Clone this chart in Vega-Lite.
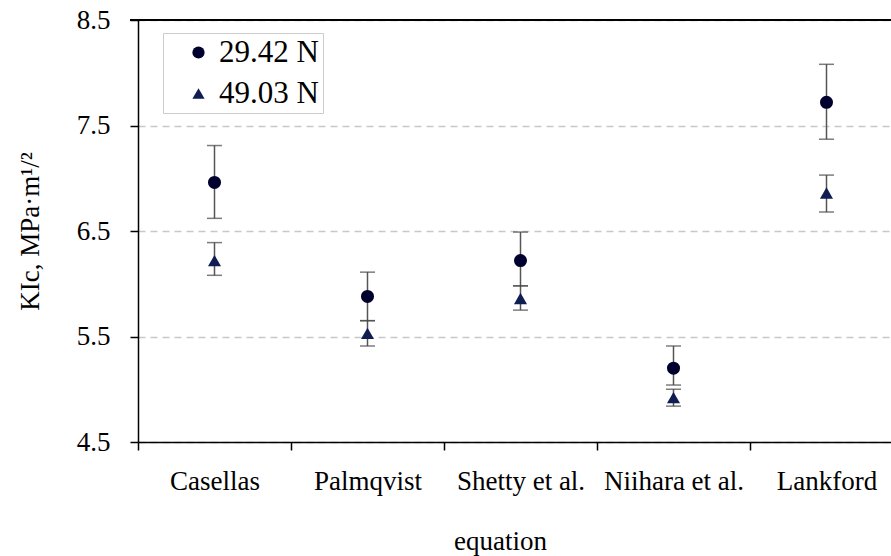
{
  "$schema": "https://vega.github.io/schema/vega-lite/v6.json",
  "autosize": "none",
  "width": 765,
  "height": 422,
  "padding": {"left": 138, "top": 20, "right": 0, "bottom": 114},
  "background": "white",
  "config": {
    "font": "Liberation Serif",
    "view": {"stroke": null},
    "axis": {"labelFont": "Liberation Serif", "titleFont": "Liberation Serif"},
    "legend": {"labelFont": "Liberation Serif"}
  },
  "data": {
    "values": [
      {"eq": "Casellas", "load": "29.42 N", "v": 6.96, "lo": 6.62, "hi": 7.31},
      {"eq": "Casellas", "load": "49.03 N", "v": 6.22, "lo": 6.08, "hi": 6.39},
      {"eq": "Palmqvist", "load": "29.42 N", "v": 5.88, "lo": 5.65, "hi": 6.11},
      {"eq": "Palmqvist", "load": "49.03 N", "v": 5.53, "lo": 5.41, "hi": 5.65},
      {"eq": "Shetty et al.", "load": "29.42 N", "v": 6.22, "lo": 5.98, "hi": 6.49},
      {"eq": "Shetty et al.", "load": "49.03 N", "v": 5.86, "lo": 5.75, "hi": 5.98},
      {"eq": "Niihara et al.", "load": "29.42 N", "v": 5.2, "lo": 5.04, "hi": 5.41},
      {"eq": "Niihara et al.", "load": "49.03 N", "v": 4.92, "lo": 4.84, "hi": 5.0},
      {"eq": "Lankford", "load": "29.42 N", "v": 7.72, "lo": 7.37, "hi": 8.08},
      {"eq": "Lankford", "load": "49.03 N", "v": 6.86, "lo": 6.68, "hi": 7.03}
    ]
  },
  "encoding": {
    "x": {
      "field": "eq",
      "type": "nominal",
      "sort": ["Casellas", "Palmqvist", "Shetty et al.", "Niihara et al.", "Lankford"],
      "scale": {"paddingInner": 0, "paddingOuter": 0},
      "axis": {
        "title": "equation",
        "labelAngle": 0,
        "labelFont": "Liberation Serif",
        "labelFontSize": 27,
        "labelColor": "black",
        "labelPadding": 18,
        "titleFont": "Liberation Serif",
        "titleFontSize": 27,
        "titleFontWeight": "normal",
        "titleColor": "black",
        "titlePadding": 34,
        "titleX": 362,
        "domainColor": "black",
        "domainWidth": 1.5,
        "tickColor": "black",
        "tickWidth": 1.5,
        "tickSize": 8,
        "tickBand": "extent",
        "grid": false
      }
    }
  },
  "layer": [
    {
      "mark": {"type": "rule", "color": "black", "strokeWidth": 1.5},
      "encoding": {"y": {"datum": 8.5, "type": "quantitative", "scale": {"domain": [4.5, 8.5]}}, "x": {"value": -8}, "x2": {"value": 765}}
    },
    {
      "mark": {"type": "rule", "color": "#555555", "strokeWidth": 1.5},
      "encoding": {
        "y": {
          "field": "lo",
          "type": "quantitative",
          "scale": {"domain": [4.5, 8.5], "zero": false, "nice": false},
          "axis": {
            "values": [4.5, 5.5, 6.5, 7.5, 8.5],
            "format": ".1f",
            "title": "KIc, MPa·m¹/²",
            "titleFont": "Liberation Serif",
            "titleFontSize": 27,
            "titleFontWeight": "normal",
            "titleColor": "black",
            "titleX": -108,
            "titleY": 211,
            "titleAngle": 270,
            "titleAlign": "center",
            "titleBaseline": "middle",
            "labelFont": "Liberation Serif",
            "labelFontSize": 27,
            "labelColor": "black",
            "labelPadding": 20,
            "domainColor": "black",
            "domainWidth": 1.5,
            "tickColor": "black",
            "tickWidth": 1.5,
            "tickSize": 8,
            "grid": true,
            "gridColor": "#c8c8c8",
            "gridDash": [7, 5],
            "gridWidth": 1.5
          }
        },
        "y2": {"field": "hi"}
      }
    },
    {
      "mark": {"type": "tick", "color": "#444444", "thickness": 1.5, "size": 15},
      "encoding": {"y": {"field": "lo", "type": "quantitative"}}
    },
    {
      "mark": {"type": "tick", "color": "#444444", "thickness": 1.5, "size": 15},
      "encoding": {"y": {"field": "hi", "type": "quantitative"}}
    },
    {
      "mark": {"type": "point", "filled": true, "size": 170, "opacity": 1},
      "encoding": {
        "y": {"field": "v", "type": "quantitative"},
        "shape": {
          "field": "load",
          "type": "nominal",
          "scale": {"domain": ["29.42 N", "49.03 N"], "range": ["circle", "triangle-up"]},
          "legend": {
            "orient": "none",
            "legendX": 25,
            "legendY": 13,
            "title": null,
            "strokeColor": "#cccccc",
            "fillColor": "white",
            "padding": 4,
            "labelFontSize": 31,
            "labelColor": "black",
            "labelFont": "Liberation Serif",
            "symbolSize": 150,
            "symbolOffset": 16,
            "rowPadding": 9,
            "labelOffset": 5
          }
        },
        "color": {
          "field": "load",
          "type": "nominal",
          "scale": {"domain": ["29.42 N", "49.03 N"], "range": ["#00002e", "#0f1d50"]}
        }
      }
    }
  ]
}
